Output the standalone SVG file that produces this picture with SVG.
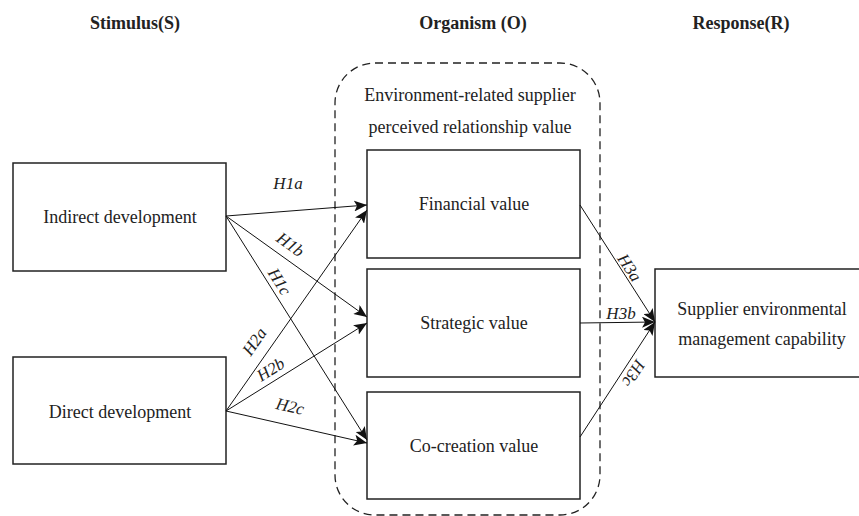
<svg xmlns="http://www.w3.org/2000/svg" width="859" height="516" viewBox="0 0 859 516">
<defs>
<style>
.box{fill:#fff;stroke:#222;stroke-width:1.5}
.t{font-family:"Liberation Serif","Times New Roman",serif;font-size:18px;fill:#222;text-anchor:middle}
.h{font-family:"Liberation Serif","Times New Roman",serif;font-size:18px;font-weight:bold;fill:#222;text-anchor:middle}
.l{font-family:"Liberation Serif","Times New Roman",serif;font-size:17px;font-style:italic;fill:#222;text-anchor:middle}
.c{stroke:#111;stroke-width:1;fill:none;marker-end:url(#ah)}
</style>
<marker id="ah" viewBox="0 0 13 11" refX="13" refY="5.5" markerWidth="13" markerHeight="11" markerUnits="userSpaceOnUse" orient="auto">
<path d="M0,0 L13,5.5 L0,11 L3,5.5 Z" fill="#111"/>
</marker>
</defs>
<rect width="859" height="516" fill="#fff"/>
<g id="titles">
<text class="h" x="135" y="29">Stimulus(S)</text>
<text class="h" x="473" y="29">Organism (O)</text>
<text class="h" x="741" y="29">Response(R)</text>
</g>
<g id="organism">
<rect x="335" y="63" width="265" height="452" rx="40" ry="40" fill="none" stroke="#222" stroke-width="1.3" stroke-dasharray="8,5"/>
<text class="t" x="470" y="101">Environment-related supplier</text>
<text class="t" x="470" y="133">perceived relationship value</text>
</g>
<g id="indirect">
<rect class="box" x="13" y="163" width="213" height="108"/>
<text class="t" x="120" y="223">Indirect development</text>
</g>
<g id="direct">
<rect class="box" x="13" y="357" width="213" height="107"/>
<text class="t" x="120" y="418">Direct development</text>
</g>
<g id="financial">
<rect class="box" x="367" y="150" width="213" height="108"/>
<text class="t" x="474" y="210">Financial value</text>
</g>
<g id="strategic">
<rect class="box" x="367" y="269" width="213" height="108"/>
<text class="t" x="474" y="329">Strategic value</text>
</g>
<g id="cocreation">
<rect class="box" x="367" y="392" width="213" height="107"/>
<text class="t" x="474" y="452">Co-creation value</text>
</g>
<g id="capability">
<rect class="box" x="655" y="269" width="215" height="108"/>
<text class="t" x="762" y="315">Supplier environmental</text>
<text class="t" x="762" y="345">management capability</text>
</g>
<g id="connectors">
<line class="c" x1="226" y1="216" x2="367" y2="205"/>
<line class="c" x1="226" y1="216" x2="367" y2="317"/>
<line class="c" x1="226" y1="216" x2="367" y2="440"/>
<line class="c" x1="226" y1="411" x2="367" y2="210"/>
<line class="c" x1="226" y1="411" x2="367" y2="323"/>
<line class="c" x1="226" y1="411" x2="367" y2="443"/>
<line class="c" x1="580" y1="205" x2="655" y2="322"/>
<line class="c" x1="580" y1="323" x2="655" y2="322"/>
<line class="c" x1="580" y1="437" x2="655" y2="322"/>
</g>
<g id="labels">
<text class="l" x="288" y="189">H1a</text>
<text class="l" transform="translate(290,245) rotate(36)" dy="5">H1b</text>
<text class="l" transform="translate(279,282) rotate(58)" dy="5">H1c</text>
<text class="l" transform="translate(255,342) rotate(-55)" dy="5">H2a</text>
<text class="l" transform="translate(271,370) rotate(-32)" dy="5">H2b</text>
<text class="l" transform="translate(290,407) rotate(13)" dy="5">H2c</text>
<text class="l" transform="translate(629,268) rotate(57)" dy="5">H3a</text>
<text class="l" x="621" y="319">H3b</text>
<text class="l" transform="translate(633,373) rotate(123)" dy="5">H3c</text>
</g>
</svg>
